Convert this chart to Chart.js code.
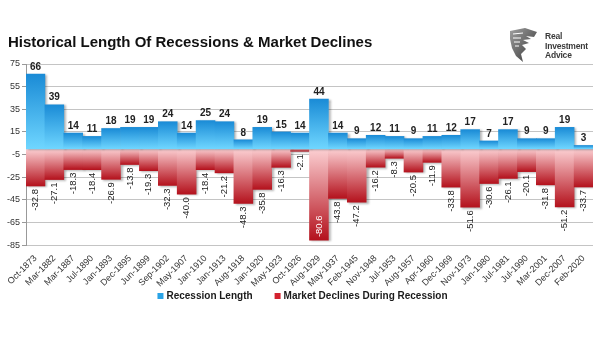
<!DOCTYPE html>
<html>
<head>
<meta charset="utf-8">
<script src="https://cdn.jsdelivr.net/npm/chart.js@4.4.1/dist/chart.umd.min.js"></script>
<style>
  html, body { margin: 0; padding: 0; background: #fff; }
  #wrap { position: relative; width: 605px; height: 341px; overflow: hidden; }
  #title { position: absolute; left: 8px; top: 33px; font: bold 15px "Liberation Sans", Arial, sans-serif; color: #111; white-space: nowrap; }
  #logo { position: absolute; left: 508px; top: 27px; width: 95px; height: 36px; }
  #logo svg { position: absolute; left: 0; top: 0; }
  #logo .txt { position: absolute; left: 37px; top: 5px; font: bold 8.5px/9.5px "Liberation Sans", Arial, sans-serif; color: #3a3a3a; letter-spacing: -0.2px; }
  canvas { position: absolute; left: 0; top: 0; }
</style>
</head>
<body>
<div id="wrap">
  <canvas id="c" width="605" height="341"></canvas>
  <div id="title">Historical Length Of Recessions &amp; Market Declines</div>
  <div id="logo">
    <svg width="32" height="36" viewBox="0 0 32 36">
      <defs>
        <linearGradient id="lg" x1="0" y1="0" x2="1" y2="1">
          <stop offset="0" stop-color="#a0a0a0"/>
          <stop offset="1" stop-color="#333"/>
        </linearGradient>
      </defs>
      <path d="M2 4 L17 1 L29 5 L26 10 L18 9 L23 12 L15 13 L21 16 L14 18 L18 22 L13 27 L15 35 L8 29 L4 21 L2 12 Z" fill="url(#lg)"/>
      <path d="M5 7 L15 6 M5 11 L13 11 M6 15 L12 15 M7 19 L11 19" stroke="#fff" stroke-width="1"/>
    </svg>
    <div class="txt">Real<br>Investment<br>Advice</div>
  </div>
</div>
<script>
// Recession start dates
const categories = ["Oct-1873","Mar-1882","Mar-1887","Jul-1890","Jan-1893","Dec-1895","Jun-1899","Sep-1902","May-1907","Jan-1910","Jan-1913","Aug-1918","Jan-1920","May-1923","Oct-1926","Aug-1929","May-1937","Feb-1945","Nov-1948","Jul-1953","Aug-1957","Apr-1960","Dec-1969","Nov-1973","Jan-1980","Jul-1981","Jul-1990","Mar-2001","Dec-2007","Feb-2020"];
// Length of each recession (months)
const recessionLength = [66,39,14,11,18,19,19,24,14,25,24,8,19,15,14,44,14,9,12,11,9,11,12,17,7,17,9,9,19,3];
// Stock market decline during each recession (%)
const marketDeclines = [-32.8,-27.1,-18.3,-18.4,-26.9,-13.8,-19.3,-32.3,-40.0,-18.4,-21.2,-48.3,-35.8,-16.3,-2.1,-80.6,-43.8,-47.2,-16.2,-8.3,-20.5,-11.9,-33.8,-51.6,-30.6,-26.1,-20.1,-31.8,-51.2,-33.7];
// Y axis tick values
const yTicks = [-85,-65,-45,-25,-5,15,35,55,75];

const FONT = '"Liberation Sans", Arial, sans-serif';
const LEGEND_COLORS = ['#2aa3e6', '#d3222f'];

// Per-bar gradient running from the zero line out to the bar end
function barGradient(ctx, nearColor, farColor) {
  const chart = ctx.chart;
  const y = chart.scales.y;
  if (!chart.chartArea || !y || ctx.dataIndex === undefined) return farColor;
  const v = ctx.dataset.data[ctx.dataIndex];
  const y0 = y.getPixelForValue(0);
  const y1 = y.getPixelForValue(v);
  if (Math.abs(y1 - y0) < 1) return nearColor;
  const g = chart.ctx.createLinearGradient(0, y0, 0, y1);
  g.addColorStop(0, nearColor);
  g.addColorStop(1, farColor);
  return g;
}

// Soft drop shadow behind the bars
const barShadow = {
  id: 'barShadow',
  beforeDatasetDraw(chart) {
    const c = chart.ctx;
    c.save();
    c.shadowColor = 'rgba(0,0,0,0.28)';
    c.shadowBlur = 2;
    c.shadowOffsetX = 2;
    c.shadowOffsetY = 1;
  },
  afterDatasetDraw(chart) {
    chart.ctx.restore();
  }
};

// Value labels above the length bars and below the decline bars
const valueLabels = {
  id: 'valueLabels',
  afterDatasetsDraw(chart) {
    const c = chart.ctx;
    const area = chart.chartArea;
    c.save();
    const m0 = chart.getDatasetMeta(0);
    c.font = 'bold 10px ' + FONT;
    c.fillStyle = '#222';
    c.textAlign = 'center';
    c.textBaseline = 'bottom';
    m0.data.forEach((bar, i) => {
      c.fillText(String(recessionLength[i]), bar.x, bar.y - 2);
    });
    const m1 = chart.getDatasetMeta(1);
    c.font = '9.5px ' + FONT;
    c.textBaseline = 'middle';
    m1.data.forEach((bar, i) => {
      const txt = marketDeclines[i].toFixed(1);
      const w = c.measureText(txt).width;
      c.save();
      if (bar.y + 3 + w > area.bottom) {
        // no room below the bar: write inside it
        c.translate(bar.x, bar.y - 3);
        c.rotate(-Math.PI / 2);
        c.textAlign = 'left';
        c.fillStyle = '#fff';
      } else {
        c.translate(bar.x, bar.y + 3);
        c.rotate(-Math.PI / 2);
        c.textAlign = 'right';
        c.fillStyle = '#222';
      }
      c.fillText(txt, 0, 0);
      c.restore();
    });
    c.restore();
  }
};

// Legend row centred under the axis labels
const bottomLegend = {
  id: 'bottomLegend',
  afterDraw(chart) {
    const c = chart.ctx;
    const sets = chart.data.datasets;
    const box = 6, gapBox = 3, gapItem = 22;
    c.save();
    c.font = 'bold 10px ' + FONT;
    c.textBaseline = 'middle';
    c.textAlign = 'left';
    const widths = sets.map(d => box + gapBox + c.measureText(d.label).width);
    const total = widths.reduce((a, b) => a + b, 0) + gapItem * (sets.length - 1);
    let x = (chart.width - total) / 2;
    const y = 296;
    sets.forEach((d, i) => {
      c.fillStyle = LEGEND_COLORS[i];
      c.fillRect(x, y - box / 2, box, box);
      c.fillStyle = '#1a1a1a';
      c.fillText(d.label, x + box + gapBox, y);
      x += widths[i] + gapItem;
    });
    c.restore();
  }
};

new Chart(document.getElementById('c'), {
  type: 'bar',
  data: {
    labels: categories,
    datasets: [
      {
        label: 'Recession Length',
        data: recessionLength,
        backgroundColor: (ctx) => barGradient(ctx, '#6fd6ff', '#1a8bd6'),
        borderWidth: 0,
        barPercentage: 1,
        categoryPercentage: 1
      },
      {
        label: 'Market Declines During Recession',
        data: marketDeclines,
        backgroundColor: (ctx) => barGradient(ctx, '#fcd0d3', '#b4121d'),
        borderWidth: 0,
        barPercentage: 1,
        categoryPercentage: 1
      }
    ]
  },
  options: {
    responsive: false,
    animation: false,
    layout: { padding: { top: 64, left: 0, right: 12, bottom: 52 } },
    scales: {
      x: {
        stacked: true,
        grid: { display: false },
        border: { display: false },
        ticks: {
          minRotation: 45,
          maxRotation: 45,
          autoSkip: false,
          padding: 0,
          color: '#333',
          font: { family: FONT, size: 9 }
        }
      },
      y: {
        stacked: true,
        min: -85,
        max: 75,
        afterBuildTicks(scale) { scale.ticks = yTicks.map(v => ({ value: v })); },
        afterFit(scale) { scale.width = 26; },
        grid: { color: '#c4c4c4', tickLength: 4, tickColor: '#999' },
        border: { color: '#999' },
        ticks: {
          padding: 2,
          color: '#333',
          font: { family: FONT, size: 9 }
        }
      }
    },
    plugins: {
      legend: { display: false },
      title: { display: false },
      tooltip: { enabled: false }
    }
  },
  plugins: [barShadow, valueLabels, bottomLegend]
});
</script>
</body>
</html>
